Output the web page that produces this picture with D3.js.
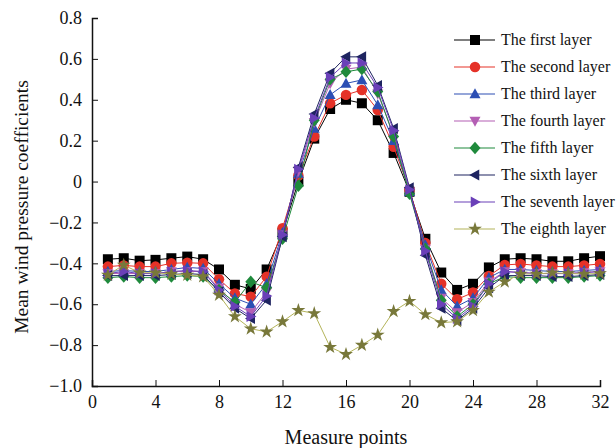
<!DOCTYPE html>
<html lang="en">
<head>
<meta charset="UTF-8">
<title>Mean wind pressure coefficients</title>
<script src="https://cdn.jsdelivr.net/npm/d3@7"></script>
<style>
  body { margin: 0; background: #fff; }
  text { font-family: "Liberation Serif", "Times New Roman", serif; fill: #111; }
  .axis path, .axis line { stroke: #111; }
  .series path.line { fill: none; stroke-width: 1; }
</style>
</head>
<body>
<svg width="616" height="448"></svg>
<script>
// measure points 1..32
var points = d3.range(1, 33);

var layerNames = ["The first layer", "The second layer", "The third layer", "The fourth layer",
                  "The fifth layer", "The sixth layer", "The seventh layer", "The eighth layer"];

var first = [-0.38,-0.375,-0.387,-0.383,-0.375,-0.367,-0.38,-0.43,-0.505,-0.525,-0.43,-0.25,0.0,0.21,0.355,0.40,0.383,0.30,0.14,-0.05,-0.28,-0.445,-0.53,-0.50,-0.42,-0.38,-0.375,-0.38,-0.39,-0.39,-0.375,-0.365];
var second = [-0.416,-0.41,-0.416,-0.416,-0.40,-0.397,-0.40,-0.478,-0.547,-0.563,-0.465,-0.228,0.03,0.22,0.383,0.424,0.448,0.35,0.17,-0.04,-0.30,-0.50,-0.576,-0.543,-0.462,-0.408,-0.403,-0.41,-0.416,-0.416,-0.41,-0.403];
var third = [-0.44,-0.435,-0.44,-0.44,-0.43,-0.42,-0.425,-0.50,-0.57,-0.60,-0.50,-0.25,0.04,0.26,0.424,0.48,0.497,0.375,0.20,-0.05,-0.31,-0.53,-0.61,-0.57,-0.47,-0.43,-0.43,-0.435,-0.44,-0.44,-0.435,-0.43];
var fourth = [-0.45,-0.45,-0.45,-0.45,-0.44,-0.44,-0.44,-0.52,-0.60,-0.64,-0.54,-0.26,0.05,0.29,0.48,0.55,0.56,0.43,0.23,-0.05,-0.33,-0.57,-0.64,-0.59,-0.49,-0.44,-0.445,-0.45,-0.45,-0.45,-0.445,-0.44];
var fifth = [-0.47,-0.465,-0.47,-0.47,-0.465,-0.46,-0.465,-0.53,-0.59,-0.49,-0.52,-0.28,-0.02,0.30,0.50,0.537,0.55,0.44,0.22,-0.06,-0.33,-0.58,-0.66,-0.60,-0.50,-0.465,-0.47,-0.47,-0.47,-0.47,-0.465,-0.46];
var sixth = [-0.46,-0.46,-0.46,-0.46,-0.455,-0.45,-0.455,-0.54,-0.62,-0.67,-0.58,-0.27,0.07,0.33,0.53,0.61,0.61,0.47,0.26,-0.03,-0.36,-0.62,-0.68,-0.62,-0.52,-0.46,-0.46,-0.46,-0.465,-0.465,-0.46,-0.455];
var seventh = [-0.45,-0.44,-0.45,-0.45,-0.44,-0.435,-0.44,-0.53,-0.61,-0.66,-0.56,-0.26,0.06,0.31,0.51,0.58,0.58,0.46,0.25,-0.04,-0.34,-0.60,-0.67,-0.61,-0.50,-0.44,-0.445,-0.45,-0.45,-0.45,-0.445,-0.44];
var eighth = [-0.457,-0.408,-0.446,-0.446,-0.452,-0.457,-0.465,-0.555,-0.66,-0.72,-0.735,-0.685,-0.63,-0.645,-0.81,-0.845,-0.80,-0.75,-0.635,-0.585,-0.65,-0.69,-0.685,-0.63,-0.54,-0.49,-0.452,-0.452,-0.446,-0.45,-0.452,-0.45];

var xTicks = [0, 4, 8, 12, 16, 20, 24, 28, 32];
var yTicks = [-1.0, -0.8, -0.6, -0.4, -0.2, 0, 0.2, 0.4, 0.6, 0.8];

var values = [first, second, third, fourth, fifth, sixth, seventh, eighth];
var markerFill = ["#000000", "#e53228", "#2c4fb4", "#b45fb4", "#1f8a3c", "#1e2460", "#6a40b8", "#78783a"];
var lineColor  = ["#000000", "#e53228", "#2c4fb4", "#b45fb4", "#1f8a3c", "#1e2460", "#6a40b8", "#b4b45a"];
var symbols = ["square", "circle", "triUp", "triDown", "diamond", "triLeft", "triRight", "star"];

var svg = d3.select("svg"),
    margin = {left: 92, right: 15, top: 18, bottom: 62},
    width = +svg.attr("width"),
    height = +svg.attr("height");

var x = d3.scaleLinear().domain([0, 32]).range([margin.left, 600]);
var y = d3.scaleLinear().domain([-1.0, 0.8]).range([386, margin.top]);

function fmt(d) {
  if (d === 0) return "0";
  var s = d3.format(".1f")(Math.abs(d));
  return (d < 0 ? "\u2212" : "") + s;
}

// minor ticks first, then labelled major ticks
var gx = svg.append("g").attr("class", "axis").attr("transform", "translate(0," + y(-1.0) + ")");
gx.call(d3.axisBottom(x).tickValues(d3.range(0, 33, 1)).tickSize(-3).tickFormat(""));
gx.call(d3.axisBottom(x).tickValues(xTicks).tickSize(-6).tickPadding(9).tickFormat(d3.format("d")));
gx.selectAll("text").attr("font-size", 18);

var gy = svg.append("g").attr("class", "axis").attr("transform", "translate(" + x(0) + ",0)");
gy.call(d3.axisLeft(y).tickValues(d3.range(-10, 9).map(function(d) { return d / 10; })).tickSize(-3).tickFormat(""));
gy.call(d3.axisLeft(y).tickValues(yTicks).tickSize(-6).tickPadding(10).tickFormat(fmt));
gy.selectAll("text").attr("font-size", 18);
svg.selectAll(".axis .domain").attr("stroke-width", 1.5);

svg.append("text")
  .attr("x", (x(0) + x(32)) / 2)
  .attr("y", 444)
  .attr("text-anchor", "middle")
  .attr("font-size", 20)
  .text("Measure points");

svg.append("text")
  .attr("transform", "translate(28,207) rotate(-90)")
  .attr("text-anchor", "middle")
  .attr("font-size", 19.5)
  .text("Mean wind pressure coefficients");

function symbolPath(kind, s) {
  var h = s / 2;
  switch (kind) {
    case "square": return "M" + (-h) + "," + (-h) + "h" + s + "v" + s + "h" + (-s) + "Z";
    case "circle": return d3.symbol().type(d3.symbolCircle).size(Math.PI * h * h * 1.1)();
    case "triUp": return "M0," + (-h * 1.15) + "L" + (h * 1.1) + "," + (h * 0.85) + "L" + (-h * 1.1) + "," + (h * 0.85) + "Z";
    case "triDown": return "M0," + (h * 1.15) + "L" + (h * 1.1) + "," + (-h * 0.85) + "L" + (-h * 1.1) + "," + (-h * 0.85) + "Z";
    case "triLeft": return "M" + (-h * 1.15) + ",0L" + (h * 0.85) + "," + (-h * 1.1) + "L" + (h * 0.85) + "," + (h * 1.1) + "Z";
    case "triRight": return "M" + (h * 1.15) + ",0L" + (-h * 0.85) + "," + (-h * 1.1) + "L" + (-h * 0.85) + "," + (h * 1.1) + "Z";
    case "diamond": return "M0," + (-h * 1.25) + "L" + (h * 1.1) + ",0L0," + (h * 1.25) + "L" + (-h * 1.1) + ",0Z";
    case "star": return d3.symbol().type(d3.symbolStar).size(s * s * 0.6)();
  }
}

var line = d3.line()
  .x(function(d, i) { return x(points[i]); })
  .y(function(d) { return y(d); });

values.forEach(function(vals, k) {
  var g = svg.append("g").attr("class", "series");
  g.append("path").attr("class", "line")
    .attr("d", line(vals))
    .attr("stroke", lineColor[k]);
  g.selectAll("path.mark").data(vals).enter().append("path")
    .attr("class", "mark")
    .attr("transform", function(d, i) { return "translate(" + x(points[i]) + "," + y(d) + ")"; })
    .attr("d", symbolPath(symbols[k], 10))
    .attr("fill", markerFill[k]);
});

// legend
var leg = svg.append("g").attr("transform", "translate(454,40)");
layerNames.forEach(function(name, k) {
  var row = leg.append("g").attr("transform", "translate(0," + (k * 27) + ")");
  row.append("line").attr("x1", 0).attr("x2", 41).attr("y1", 0).attr("y2", 0)
    .attr("stroke", lineColor[k]).attr("stroke-width", 1.2);
  row.append("path").attr("transform", "translate(21,0)")
    .attr("d", symbolPath(symbols[k], 10)).attr("fill", markerFill[k]);
  row.append("text").attr("x", 47).attr("y", 5).attr("font-size", 16).text(name);
});
</script>
</body>
</html>
